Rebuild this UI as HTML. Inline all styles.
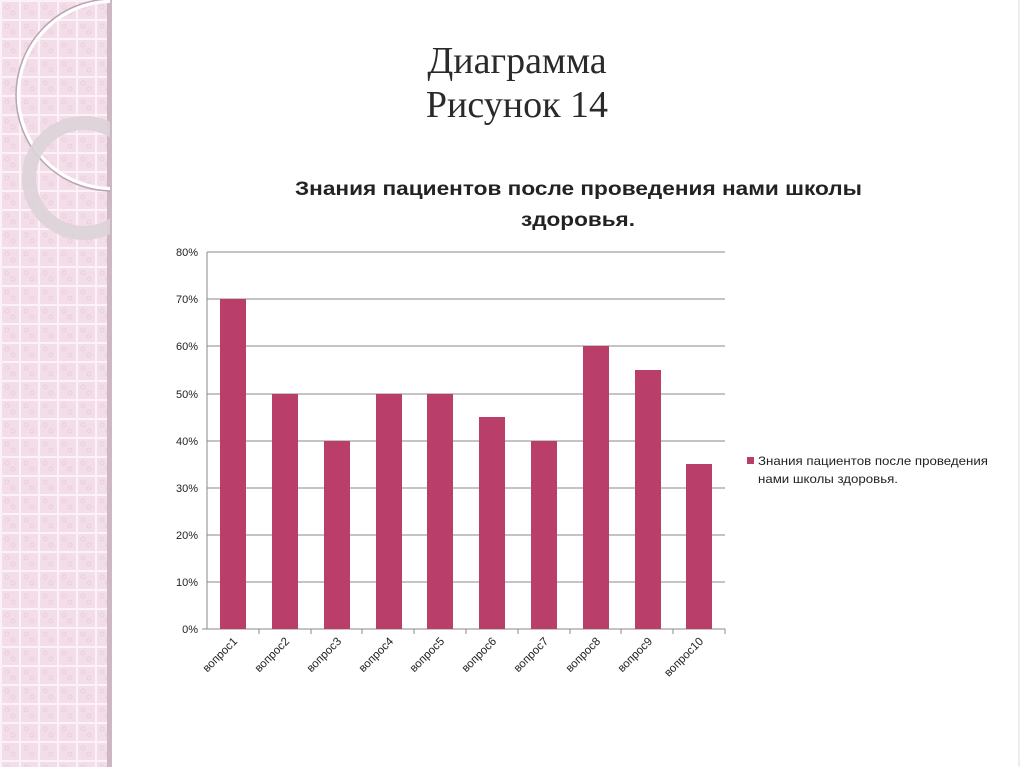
<!DOCTYPE html>
<html><head><meta charset="utf-8"><style>
html,body{margin:0;padding:0;background:#fff;}
body{width:1024px;height:767px;overflow:hidden;position:relative;font-family:"Liberation Sans","DejaVu Sans",sans-serif;}
</style></head><body>
<svg width="1024" height="767" xmlns="http://www.w3.org/2000/svg" style="position:absolute;left:0;top:0">
<defs>
<pattern id="pg" width="19" height="19" patternUnits="userSpaceOnUse">
<rect width="19" height="19" fill="#f3dde8"/>
<rect x="0" y="0" width="19" height="2" fill="#fcf1f6"/>
<rect x="0" y="0" width="2" height="19" fill="#fcf1f6"/>
<circle cx="7" cy="7" r="2" fill="none" stroke="#ebcfdc" stroke-width="1"/>
<circle cx="13" cy="13" r="2" fill="none" stroke="#ebcfdc" stroke-width="1"/>
</pattern>
<clipPath id="lc"><rect x="0" y="0" width="110" height="767"/></clipPath>
</defs>
<rect x="0" y="0" width="108" height="767" fill="url(#pg)"/>
<rect x="107" y="0" width="5" height="767" fill="#cdb7c3"/>
<g clip-path="url(#lc)">
<circle cx="112" cy="95" r="94" fill="none" stroke="#ffffff" stroke-width="4"/>
<circle cx="112" cy="95" r="96" fill="none" stroke="#b8a4b0" stroke-width="1.5"/>
<circle cx="84" cy="178" r="55" fill="none" stroke="#dcd3d8" stroke-width="14" opacity="0.9"/>
</g>
<rect x="1018" y="0" width="2" height="767" fill="#eeeeee"/>
<text x="517" y="73" text-anchor="middle" font-family="Liberation Serif,serif" font-size="38" fill="#2a2a2a">Диаграмма</text>
<text x="517" y="117" text-anchor="middle" font-family="Liberation Serif,serif" font-size="38" fill="#2a2a2a">Рисунок 14</text>
<text x="295" y="195" font-size="19" font-weight="bold" fill="#222" textLength="567" lengthAdjust="spacingAndGlyphs">Знания пациентов после проведения нами школы</text>
<text x="578" y="226" text-anchor="middle" font-size="19" font-weight="bold" fill="#222" textLength="114" lengthAdjust="spacingAndGlyphs">здоровья.</text>
<g stroke="#8a8a8a" stroke-width="1">
<line x1="207" y1="252" x2="725" y2="252"/>
<line x1="207" y1="299" x2="725" y2="299"/>
<line x1="207" y1="346" x2="725" y2="346"/>
<line x1="207" y1="394" x2="725" y2="394"/>
<line x1="207" y1="441" x2="725" y2="441"/>
<line x1="207" y1="488" x2="725" y2="488"/>
<line x1="207" y1="535" x2="725" y2="535"/>
<line x1="207" y1="582" x2="725" y2="582"/>
<line x1="207" y1="252" x2="207" y2="629"/>
<line x1="202" y1="629" x2="725" y2="629"/>
</g>
<g font-size="11" fill="#222" text-anchor="end">
<text x="198" y="256">80%</text><text x="198" y="303">70%</text><text x="198" y="350">60%</text><text x="198" y="398">50%</text><text x="198" y="445">40%</text><text x="198" y="492">30%</text><text x="198" y="539">20%</text><text x="198" y="586">10%</text><text x="198" y="633">0%</text>
</g>
<g fill="#b93e6a">
<rect x="220" y="299" width="26" height="330"/>
<rect x="272" y="394" width="26" height="235"/>
<rect x="324" y="441" width="26" height="188"/>
<rect x="376" y="394" width="26" height="235"/>
<rect x="427" y="394" width="26" height="235"/>
<rect x="479" y="417" width="26" height="212"/>
<rect x="531" y="441" width="26" height="188"/>
<rect x="583" y="346" width="26" height="283"/>
<rect x="635" y="370" width="26" height="259"/>
<rect x="686" y="464" width="26" height="165"/>
</g>
<g stroke="#8a8a8a"><line x1="259" y1="629" x2="259" y2="634"/><line x1="311" y1="629" x2="311" y2="634"/><line x1="362" y1="629" x2="362" y2="634"/><line x1="414" y1="629" x2="414" y2="634"/><line x1="466" y1="629" x2="466" y2="634"/><line x1="518" y1="629" x2="518" y2="634"/><line x1="570" y1="629" x2="570" y2="634"/><line x1="621" y1="629" x2="621" y2="634"/><line x1="673" y1="629" x2="673" y2="634"/><line x1="725" y1="629" x2="725" y2="634"/></g>
<g font-size="11.5" fill="#222" text-anchor="end">
<text transform="translate(238,642) rotate(-45)">вопрос1</text>
<text transform="translate(290,642) rotate(-45)">вопрос2</text>
<text transform="translate(342,642) rotate(-45)">вопрос3</text>
<text transform="translate(394,642) rotate(-45)">вопрос4</text>
<text transform="translate(445,642) rotate(-45)">вопрос5</text>
<text transform="translate(497,642) rotate(-45)">вопрос6</text>
<text transform="translate(549,642) rotate(-45)">вопрос7</text>
<text transform="translate(601,642) rotate(-45)">вопрос8</text>
<text transform="translate(653,642) rotate(-45)">вопрос9</text>
<text transform="translate(704,642) rotate(-45)">вопрос10</text>
</g>
<rect x="747" y="457" width="7" height="7" fill="#b93e6a"/>
<text x="758" y="465" font-size="12" fill="#222" textLength="230" lengthAdjust="spacingAndGlyphs">Знания пациентов после проведения</text>
<text x="758" y="483" font-size="12" fill="#222" textLength="140" lengthAdjust="spacingAndGlyphs">нами школы здоровья.</text>
</svg>
</body></html>
